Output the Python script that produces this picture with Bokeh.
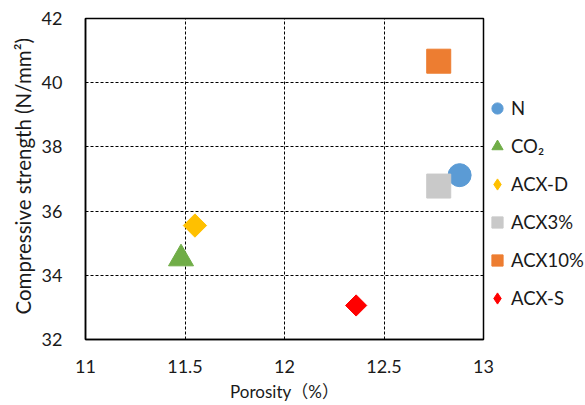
import math
from bokeh.plotting import figure
from bokeh.models import Legend, LegendItem, FixedTicker, Range1d, Title
from bokeh.embed import file_html
from bokeh.resources import INLINE

names = ["N", "CO₂", "ACX-D", "ACX3%", "ACX10%", "ACX-S"]
porosity = [12.88, 11.48, 11.55, 12.775, 12.775, 12.36]
strength = [37.12, 34.52, 35.55, 36.78, 40.67, 33.06]
colors = ["#5B9BD5", "#70AD47", "#FFC000", "#C9C9C9", "#ED7D31", "#FF0000"]
markers = ["circle", "triangle", "square", "square", "square", "square"]
angles = [0, 0, math.pi / 4, 0, 0, math.pi / 4]
legend_markers = ["circle", "triangle", "diamond", "square", "square", "diamond"]
sizes = [23, 25, 16.5, 24, 24, 15]
x_ticks = [11, 11.5, 12, 12.5, 13]
y_ticks = [32, 34, 36, 38, 40, 42]
x_title = "Porosity（%）"
y_title = "Compressive strength (N/mm²)"

FONT = "Lato, 'Noto Sans CJK JP'"
TXT = "#1a1a1a"

p = figure(frame_width=398, frame_height=321, output_backend="svg", toolbar_location=None,
           x_range=Range1d(11, 13), y_range=Range1d(32, 42),
           min_border_left=85, min_border_top=18, min_border_bottom=64, min_border_right=0)

items = []
for i in range(len(names)):
    if legend_markers[i] != markers[i]:
        # small diamond hidden beneath the rotated square; gives the legend its symbol
        lr = p.scatter([porosity[i]], [strength[i]], marker=legend_markers[i],
                       size=sizes[i] * 1.2, fill_color=colors[i], line_color=colors[i])
    r = p.scatter([porosity[i]], [strength[i]], marker=markers[i], size=sizes[i],
                  angle=angles[i], fill_color=colors[i], line_color=colors[i])
    if legend_markers[i] == markers[i]:
        lr = r
    items.append(LegendItem(label=names[i], renderers=[lr]))

p.xaxis.ticker = FixedTicker(ticks=x_ticks)
p.yaxis.ticker = FixedTicker(ticks=y_ticks)
p.xaxis.major_label_overrides = {11: "11", 11.5: "11.5", 12: "12", 12.5: "12.5", 13: "13"}
for ax in (p.xaxis, p.yaxis):
    ax.major_tick_line_color = None
    ax.minor_tick_line_color = None
    ax.axis_line_color = "black"
    ax.axis_line_width = 1.5
    ax.major_label_text_font = FONT
    ax.major_label_text_font_size = "18px"
    ax.major_label_text_color = TXT
    ax.axis_label_text_font = FONT
    ax.axis_label_text_font_size = "17px"
    ax.axis_label_text_font_style = "normal"
    ax.axis_label_text_color = TXT
p.xaxis.axis_label = x_title
p.xaxis.major_label_standoff = 14
p.yaxis.major_label_standoff = 17
p.xaxis.axis_label_standoff = 5

ytitle = Title(text=y_title, align="left", offset=25, text_font=FONT,
               text_font_size="20.5px", text_font_style="normal", text_color=TXT,
               standoff=7)
p.add_layout(ytitle, "left")

p.xgrid.grid_line_color = "black"
p.ygrid.grid_line_color = "black"
p.xgrid.grid_line_dash = "3 2"
p.ygrid.grid_line_dash = "3 2"
p.xgrid.grid_line_width = 1
p.ygrid.grid_line_width = 1

p.outline_line_color = "black"
p.outline_line_width = 1.5
p.outline_line_alpha = 1

legend = Legend(items=items, location=(0, 26), orientation="vertical")
legend.border_line_color = None
legend.background_fill_alpha = 0
legend.label_text_font = FONT
legend.label_text_font_size = "18.5px"
legend.label_text_color = TXT
legend.glyph_width = 28
legend.glyph_height = 30
legend.label_standoff = 0
legend.spacing = 8
legend.padding = 0
legend.margin = 0
p.add_layout(legend, "right")

open("out.html", "w").write(file_html(p, INLINE))
